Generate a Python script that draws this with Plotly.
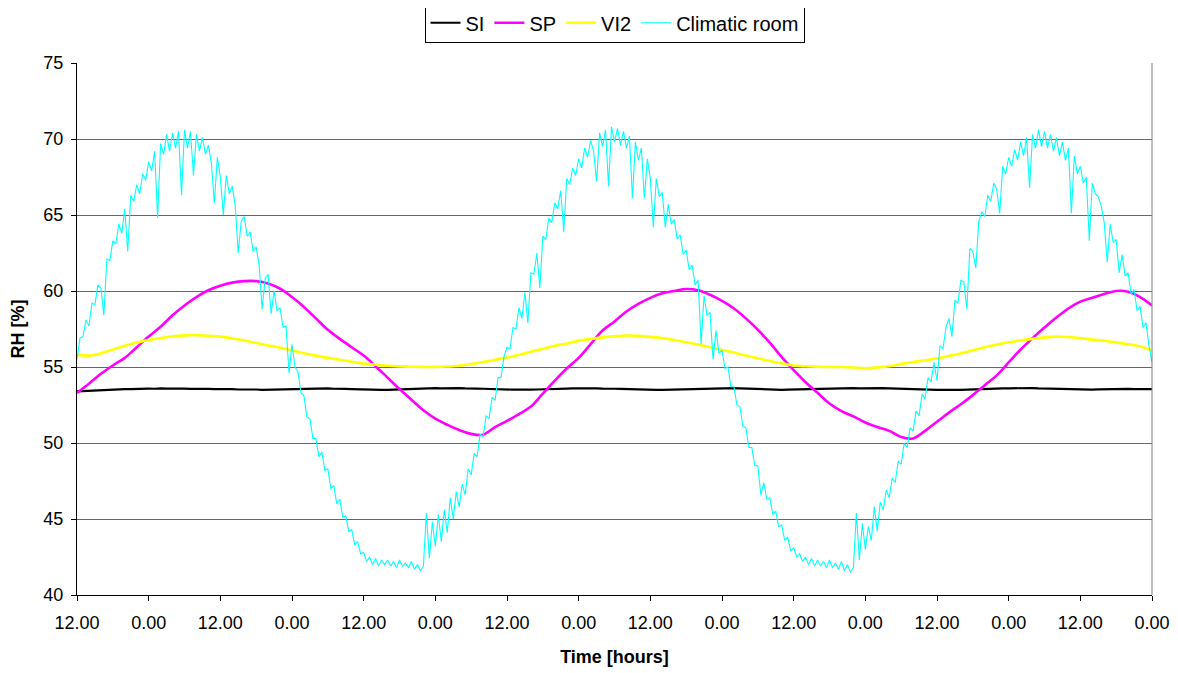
import plotly.graph_objects as go

# ---------------- data ----------------
# Time axis: hours since start (0 .. 180 h), tick every 12 h
tick_hours = [0, 12, 24, 36, 48, 60, 72, 84, 96, 108, 120, 132, 144, 156, 168, 180]
tick_labels = ["12.00", "0.00", "12.00", "0.00", "12.00", "0.00", "12.00", "0.00",
               "12.00", "0.00", "12.00", "0.00", "12.00", "0.00", "12.00", "0.00"]

# SI  (sampled every 1 h)
si_rh = [
    53.40, 53.42, 53.45, 53.47, 53.50, 53.50, 53.53, 53.52, 53.55, 53.54, 53.57, 53.56,
    53.58, 53.57, 53.60, 53.58, 53.59, 53.57, 53.58, 53.56, 53.57, 53.55, 53.56, 53.54,
    53.55, 53.53, 53.54, 53.52, 53.53, 53.51, 53.52, 53.50, 53.51, 53.52, 53.53, 53.55,
    53.56, 53.58, 53.57, 53.59, 53.60, 53.58, 53.59, 53.57, 53.58, 53.56, 53.55, 53.53,
    53.52, 53.50, 53.51, 53.49, 53.50, 53.52, 53.54, 53.56, 53.58, 53.57, 53.59, 53.60,
    53.61, 53.60, 53.62, 53.60, 53.61, 53.59, 53.60, 53.58, 53.57, 53.55, 53.56, 53.54,
    53.53, 53.51, 53.52, 53.50, 53.51, 53.52, 53.54, 53.55, 53.57, 53.56, 53.58, 53.59,
    53.60, 53.59, 53.61, 53.60, 53.58, 53.59, 53.57, 53.56, 53.54, 53.53, 53.52, 53.50,
    53.51, 53.49, 53.50, 53.51, 53.52, 53.54, 53.55, 53.57, 53.58, 53.60, 53.59, 53.61,
    53.60, 53.62, 53.61, 53.60, 53.58, 53.57, 53.55, 53.54, 53.52, 53.51, 53.50, 53.51,
    53.52, 53.54, 53.55, 53.57, 53.58, 53.60, 53.59, 53.61, 53.62, 53.60, 53.61, 53.59,
    53.60, 53.62, 53.63, 53.61, 53.60, 53.58, 53.57, 53.55, 53.54, 53.52, 53.51, 53.50,
    53.49, 53.50, 53.48, 53.49, 53.50, 53.52, 53.53, 53.55, 53.56, 53.58, 53.57, 53.59,
    53.60, 53.61, 53.60, 53.62, 53.61, 53.59, 53.58, 53.56, 53.55, 53.53, 53.52, 53.51,
    53.50, 53.52, 53.51, 53.53, 53.54, 53.56, 53.55, 53.57, 53.56, 53.55, 53.56, 53.57,
    53.55,
]

# SP  (sampled every 2 h)
sp_rh = [
    53.3, 53.9, 54.55, 55.1, 55.6, 56.3, 57.0, 57.65, 58.4, 59.05, 59.6, 60.05,
    60.35, 60.55, 60.65, 60.65, 60.5, 60.15, 59.6, 58.95, 58.2, 57.45, 56.85, 56.3,
    55.75, 55.05, 54.3, 53.55, 52.85, 52.15, 51.6, 51.2, 50.85, 50.6, 50.55, 51.05,
    51.45, 51.9, 52.4, 53.25, 54.1, 54.9, 55.6, 56.5, 57.4, 58.0, 58.65, 59.15,
    59.55, 59.85, 60.0, 60.13, 60.05, 59.75, 59.35, 58.85, 58.2, 57.45, 56.6, 55.65,
    54.8, 54.0, 53.3, 52.6, 52.1, 51.75, 51.35, 51.05, 50.8, 50.4, 50.3, 50.8,
    51.4, 52.0, 52.55, 53.15, 53.8, 54.45, 55.3, 56.15, 56.9, 57.6, 58.25, 58.85,
    59.3, 59.55, 59.8, 60.0, 59.95, 59.6, 59.05,
]

# VI2 (sampled every 2 h)
vi2_rh = [
    55.8, 55.75, 55.9, 56.15, 56.4, 56.6, 56.78, 56.9, 57.02, 57.08, 57.1, 57.05,
    57.0, 56.88, 56.75, 56.58, 56.42, 56.28, 56.08, 55.9, 55.75, 55.6, 55.48, 55.35,
    55.22, 55.15, 55.08, 55.04, 55.02, 55.0, 55.0, 55.03, 55.08, 55.2, 55.33, 55.48,
    55.62, 55.8, 56.0, 56.2, 56.4, 56.55, 56.72, 56.85, 56.95, 57.02, 57.07, 57.05,
    56.98, 56.9, 56.78, 56.63, 56.48, 56.3, 56.12, 55.95, 55.75, 55.57, 55.4, 55.25,
    55.1, 55.05, 55.02, 55.0, 55.0, 54.97, 54.92, 54.97, 55.05, 55.2, 55.32, 55.45,
    55.57, 55.73, 55.9, 56.1, 56.3, 56.48, 56.62, 56.75, 56.85, 56.95, 57.0, 56.97,
    56.9, 56.8, 56.73, 56.62, 56.5, 56.35, 56.1,
]

# Climatic room (sampled every 0.5 h; one row = 12 h)
room_rh = [
    55.5, 56.9, 57.0, 58.1, 57.7, 59.2, 59.1, 60.4, 60.2, 58.4, 62.1, 62.0, 63.3, 63.1, 64.4, 63.8, 65.4, 62.6, 66.3, 65.9, 67.0, 66.4, 67.7, 67.3,
    68.5, 67.9, 69.2, 64.8, 69.7, 69.0, 70.3, 69.2, 70.4, 69.4, 70.5, 66.3, 70.6, 69.4, 70.5, 67.6, 70.3, 69.2, 70.1, 69.0, 69.6, 68.4, 65.8, 68.8,
    67.5, 65.0, 67.6, 66.4, 66.9, 65.6, 62.5, 64.6, 64.9, 63.6, 63.9, 62.6, 62.9, 61.7, 58.8, 60.8, 61.1, 58.5, 60.0, 58.7, 58.9, 57.6, 57.7, 54.6,
    56.5, 55.0, 54.7, 53.3, 53.1, 51.7, 51.6, 50.3, 50.3, 49.1, 49.4, 48.2, 48.3, 47.0, 47.2, 46.0, 46.3, 45.1, 45.2, 44.2, 44.3, 43.3, 43.5, 42.7,
    42.8, 42.2, 42.5, 42.0, 42.4, 41.9, 42.3, 42.0, 42.3, 41.9, 42.2, 41.8, 42.3, 41.9, 42.1, 41.8, 42.2, 41.7, 42.0, 41.6, 41.9, 45.4, 42.4, 44.8,
    43.2, 45.3, 43.5, 45.6, 44.1, 46.4, 45.0, 46.8, 45.8, 47.3, 46.6, 48.3, 47.9, 49.3, 49.1, 50.6, 50.4, 51.8, 51.6, 53.0, 52.8, 54.3, 54.3, 55.7,
    56.3, 56.2, 57.6, 57.5, 58.9, 58.2, 59.9, 57.9, 61.2, 61.1, 62.5, 60.2, 63.6, 63.4, 64.8, 64.5, 65.8, 65.4, 66.6, 63.9, 67.4, 67.0, 68.1, 67.6,
    68.7, 68.1, 69.4, 68.8, 69.9, 69.2, 67.2, 70.4, 69.5, 70.6, 66.9, 70.8, 69.8, 70.7, 69.6, 70.5, 69.4, 70.2, 66.1, 69.8, 68.6, 69.4, 66.1, 68.7,
    67.4, 64.2, 67.4, 66.2, 66.5, 64.2, 65.7, 64.4, 64.7, 63.4, 63.7, 62.4, 62.7, 61.4, 61.7, 60.4, 60.7, 56.5, 59.7, 58.4, 58.6, 55.5, 57.4, 55.9,
    56.1, 54.9, 55.0, 53.7, 53.7, 52.5, 52.4, 51.1, 51.0, 49.7, 49.7, 48.5, 48.5, 46.6, 47.4, 46.3, 46.4, 45.3, 45.5, 44.5, 44.6, 43.6, 43.8, 42.9,
    43.1, 42.5, 42.7, 42.2, 42.5, 42.0, 42.4, 41.9, 42.3, 41.9, 42.2, 41.8, 42.3, 41.8, 42.1, 41.7, 42.2, 41.6, 42.0, 41.5, 41.8, 45.4, 42.3, 44.7,
    43.0, 44.5, 43.6, 45.8, 44.2, 46.1, 45.6, 46.9, 46.4, 47.7, 47.4, 48.8, 48.6, 50.0, 49.7, 51.0, 50.8, 52.1, 51.8, 53.2, 52.9, 54.3, 54.0, 55.3,
    54.1, 56.4, 56.2, 57.6, 58.2, 57.0, 59.4, 59.2, 60.7, 60.6, 58.8, 62.8, 62.6, 61.5, 64.6, 65.2, 64.9, 66.3, 65.9, 67.1, 66.7, 65.1, 68.2, 67.7,
    68.8, 68.2, 69.3, 68.6, 69.8, 68.9, 70.1, 66.8, 70.3, 69.4, 70.6, 69.5, 70.5, 69.4, 70.3, 69.2, 70.1, 68.9, 69.8, 68.6, 69.4, 65.1, 68.9, 67.7,
    68.2, 67.1, 67.5, 63.3, 67.1, 66.4, 66.2, 65.6, 64.5, 61.9, 64.4, 63.2, 63.4, 61.2, 62.4, 61.0, 61.2, 59.8, 60.1, 58.7, 59.0, 57.6, 57.9, 56.4,
    55.3,
]

series_names = ["SI", "SP", "VI2", "Climatic room"]

# ---------------- figure ----------------
FONT = "Arial, 'Liberation Sans', sans-serif"

t_si = [i * 1.0 for i in range(len(si_rh))]
t_sp = [i * 2.0 for i in range(len(sp_rh))]
t_vi2 = [i * 2.0 for i in range(len(vi2_rh))]
t_room = [i * 0.5 for i in range(len(room_rh))]

fig = go.Figure()
fig.add_trace(go.Scatter(x=t_si, y=si_rh, name=series_names[0], mode="lines",
                         line=dict(color="#000000", width=2.2)))
fig.add_trace(go.Scatter(x=t_sp, y=sp_rh, name=series_names[1], mode="lines",
                         line=dict(color="#FF00FF", width=2.6, shape="spline")))
fig.add_trace(go.Scatter(x=t_vi2, y=vi2_rh, name=series_names[2], mode="lines",
                         line=dict(color="#FFFF00", width=2.6, shape="spline")))
fig.add_trace(go.Scatter(x=t_room, y=room_rh, name=series_names[3], mode="lines",
                         line=dict(color="#00FFFF", width=1.1)))

# the page adds an 8 px body margin, so the figure is sized/offset to compensate
fig.update_layout(
    width=1170, height=665,
    margin=dict(l=69, r=26, t=55, b=78, autoexpand=False),
    paper_bgcolor="white", plot_bgcolor="white",
    font=dict(family=FONT, size=18, color="black"),
    showlegend=True,
    legend=dict(orientation="h", x=0.5, xanchor="center", y=1.0757, yanchor="middle",
                bordercolor="black", borderwidth=1, bgcolor="white",
                font=dict(family=FONT, size=20, color="black"),
                itemwidth=30, tracegroupgap=0),
)

fig.update_xaxes(
    range=[0, 180], tickvals=tick_hours, ticktext=tick_labels,
    showgrid=False, zeroline=False, automargin=False,
    showline=True, linecolor="black", linewidth=1, mirror=False,
    ticks="outside", ticklen=5, tickcolor="black", ticklabelstandoff=6,
    tickfont=dict(family=FONT, size=18, color="black"),
    title=dict(text="<b>Time [hours]</b>", font=dict(family=FONT, size=18, color="black"), standoff=18),
)
fig.update_yaxes(
    range=[40, 75], tick0=40, dtick=5,
    showgrid=True, gridcolor="#666666", gridwidth=1, zeroline=False, automargin=False,
    showline=True, linecolor="black", linewidth=1,
    ticks="outside", ticklen=5, tickcolor="black", ticklabelstandoff=4,
    tickfont=dict(family=FONT, size=18, color="black"),
    title=dict(text="<b>RH [%]</b>", font=dict(family=FONT, size=18, color="black"), standoff=14),
)

# right border of the plot area (grey, as in the reference)
fig.add_shape(type="line", xref="paper", yref="paper", x0=1, x1=1, y0=0, y1=1,
              line=dict(color="#808080", width=1))

fig.write_html("out.html")
